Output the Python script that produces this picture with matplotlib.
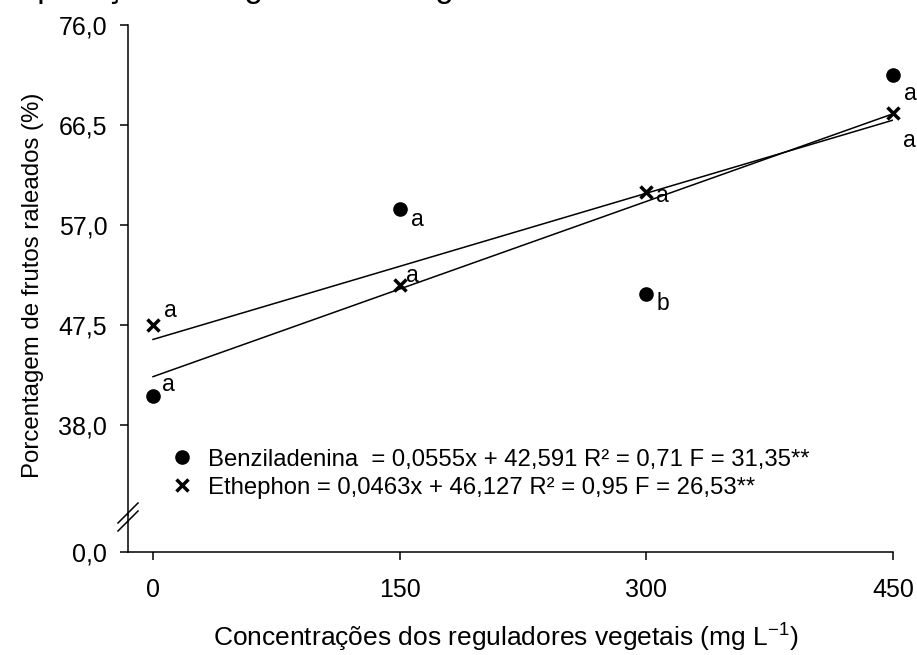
import numpy as np
import matplotlib
matplotlib.use('Agg')
import matplotlib.pyplot as plt
from matplotlib.lines import Line2D

plt.rcParams['font.family'] = ['Liberation Sans', 'DejaVu Sans']
plt.rcParams['mathtext.fontset'] = 'custom'
plt.rcParams['mathtext.rm'] = 'Liberation Sans'
plt.rcParams['mathtext.it'] = 'Liberation Sans:italic'

# data
doses = [0, 150, 300, 450]
benzil = [40.75, 58.5, 50.4, 71.25]
ethephon = [47.5, 51.3, 60.1, 67.6]
benzil_letters = ['a', 'a', 'b', 'a']
ethephon_letters = ['a', 'a', 'a', 'a']
benzil_coef = [0.0555, 42.591]
ethephon_coef = [0.0463, 46.127]
yticks_top = [38.0, 47.5, 57.0, 66.5, 76.0]
xticks = [0, 150, 300, 450]

benzil_label = 'Benziladenina  = 0,0555x + 42,591 R² = 0,71 F = 31,35**'
ethephon_label = 'Ethephon = 0,0463x + 46,127 R² = 0,95 F = 26,53**'

W, H = 917, 655
fig = plt.figure(figsize=(W / 100, H / 100), dpi=100)

def frac(x0, y0, x1, y1):
    # pixel box -> figure fraction [left, bottom, width, height]
    return [x0 / W, 1 - y1 / H, (x1 - x0) / W, (y1 - y0) / H]

ax = fig.add_axes(frac(128, 25, 893, 515))
axb = fig.add_axes(frac(128, 515, 893, 552))

px_per_unit = (515 - 25) / (76.0 - 29.45)
ax.set_ylim(29.45, 76.0)
axb.set_ylim(0, (552 - 515) / px_per_unit)
for a in (ax, axb):
    a.set_xlim(-15.2, 450)
    a.spines['right'].set_visible(False)
    a.spines['top'].set_visible(False)
    for s in a.spines.values():
        s.set_linewidth(1.1)
    a.patch.set_alpha(0)

ax.spines['bottom'].set_visible(False)
ax.set_xticks([])
ax.set_yticks(yticks_top)
ax.set_yticklabels([f'{v:.1f}'.replace('.', ',') for v in yticks_top])
axb.set_yticks([0.0])
axb.set_yticklabels(['0,0'])
axb.set_xticks(xticks)
axb.set_xticklabels([str(v) for v in xticks])
for a in (ax, axb):
    a.tick_params(axis='y', direction='out', length=6, width=1.1, pad=9, labelsize=18)
axb.tick_params(axis='x', direction='out', length=6, width=1.1, pad=13, labelsize=18)

# regression lines
xl = np.array([doses[0], doses[-1]])
ax.plot(xl, np.polyval(benzil_coef, xl), color='black', lw=1.1, zorder=2)
ax.plot(xl, np.polyval(ethephon_coef, xl), color='black', lw=1.1, zorder=2)

# points
ax.plot(doses, benzil, 'o', color='black', ms=9.5, ls='none', zorder=3,
        label=benzil_label, clip_on=False)
ax.plot(doses, ethephon, 'x', color='black', ms=9, mew=2.5, ls='none', zorder=3,
        label=ethephon_label, clip_on=False)

# significance letters (offsets in pixels)
b_off = [(15, 12), (18, -10), (17, -9), (17, -19)]
e_off = [(17, 14), (13, 9), (16, -3), (16, -27)]
for x, y, t, (dx, dy) in zip(doses, benzil, benzil_letters, b_off):
    ax.annotate(t, (x, y), xytext=(dx * 0.72, dy * 0.72), textcoords='offset points',
                ha='center', va='center', fontsize=16.5)
for x, y, t, (dx, dy) in zip(doses, ethephon, ethephon_letters, e_off):
    ax.annotate(t, (x, y), xytext=(dx * 0.72, dy * 0.72), textcoords='offset points',
                ha='center', va='center', fontsize=16.5)

ax.legend(loc='center left', bbox_to_anchor=(0.055, 0.084), frameon=False,
          fontsize=17.2, handlelength=1.0, handletextpad=0.6, labelspacing=0.25,
          borderpad=0, borderaxespad=0)

# axis break marks
for dy in (-4, 4):
    fig.add_artist(Line2D([118 / W, 138 / W],
                          [1 - (527 + dy) / H, 1 - (507 + dy) / H],
                          color='black', lw=1.1))

ax.set_ylabel('Porcentagem de frutos raleados (%)', fontsize=17.3)
ax.yaxis.set_label_coords(-0.11, 0.469)
fig.text(506 / W, 1 - 638 / H, r'Concentrações dos reguladores vegetais (mg L$^{-1}$)',
         ha='center', va='center', fontsize=19)

# title partially clipped at the top of the image
fig.text(15 / W, 1 + 3 / H, 'Aplicação de reguladores vegetais', ha='left',
         va='baseline', fontsize=24)

fig.savefig('out.png', dpi=100)
